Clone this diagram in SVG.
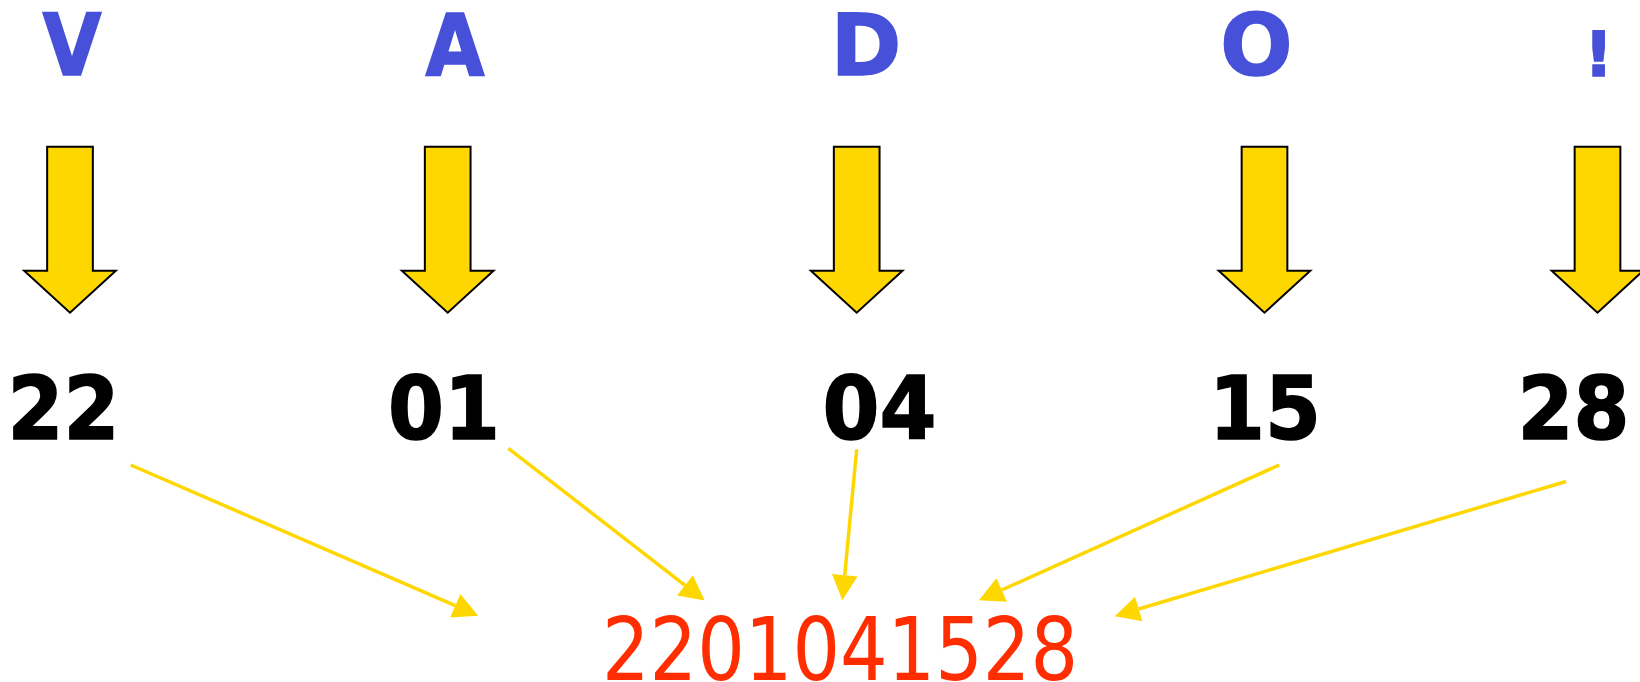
<svg xmlns="http://www.w3.org/2000/svg" xmlns:xlink="http://www.w3.org/1999/xlink" width="1640" height="682" viewBox="0 0 1640 682">
  <style>
    .letter { font-family: "DejaVu Sans", Verdana, sans-serif; font-weight: bold; font-size: 85px; fill: #4650D8; stroke: #4650D8; stroke-width: 1.6; text-anchor: middle; }
    .code { font-family: "DejaVu Sans", Verdana, sans-serif; font-weight: bold; font-size: 88px; fill: #000000; stroke: #000000; stroke-width: 1.6; text-anchor: middle; }
    .result { font-family: "DejaVu Sans", Verdana, sans-serif; font-size: 87px; fill: #FF2D00; text-anchor: middle; }
    .bigarrow { fill: #FFD700; stroke: #000000; stroke-width: 2; stroke-linejoin: miter; }
    .conn { stroke: #FFD700; stroke-width: 3.5; fill: none; marker-end: url(#head); }
  </style>
  <defs>
    <path id="downArrow" class="bigarrow" d="M-22.85,146.7 H22.85 V270.7 H45.8 L0,312.7 L-45.8,270.7 H-22.85 Z"/>
    <marker id="head" markerUnits="userSpaceOnUse" markerWidth="26" markerHeight="26" refX="0" refY="12.8" orient="auto" overflow="visible">
      <path d="M0,0 L25,12.8 L0,25.6 Z" fill="#FFD700"/>
    </marker>
  </defs>
  <rect x="0" y="0" width="1640" height="682" fill="#FFFFFF"/>

  <g id="node-V">
    <text class="letter" x="72" y="75" textLength="59" lengthAdjust="spacingAndGlyphs">V</text>
    <use href="#downArrow" x="70" y="0"/>
    <text class="code" x="63.5" y="439" textLength="112" lengthAdjust="spacingAndGlyphs">22</text>
  </g>
  <g id="node-A">
    <text class="letter" x="455" y="75" textLength="59" lengthAdjust="spacingAndGlyphs">A</text>
    <use href="#downArrow" x="447.7" y="0"/>
    <text class="code" x="444" y="439" textLength="112" lengthAdjust="spacingAndGlyphs">01</text>
  </g>
  <g id="node-D">
    <text class="letter" x="866" y="75">D</text>
    <use href="#downArrow" x="856.7" y="0"/>
    <text class="code" x="879.5" y="439" textLength="114" lengthAdjust="spacingAndGlyphs">04</text>
  </g>
  <g id="node-O">
    <text class="letter" x="1256.5" y="75">O</text>
    <use href="#downArrow" x="1264.5" y="0"/>
    <text class="code" x="1265" y="439" textLength="112" lengthAdjust="spacingAndGlyphs">15</text>
  </g>
  <g id="node-excl">
    <text class="letter" x="1598.5" y="75.5" style="font-size:63px">!</text>
    <use href="#downArrow" x="1597.5" y="0"/>
    <text class="code" x="1573.5" y="439" textLength="112" lengthAdjust="spacingAndGlyphs">28</text>
  </g>
  <g id="node-result">
    <text class="result" x="840" y="680" textLength="476" lengthAdjust="spacingAndGlyphs">2201041528</text>
  </g>

  <g id="connectors">
    <line class="conn" x1="130.7" y1="465" x2="455.3" y2="605.7"/>
    <line class="conn" x1="508.3" y1="448.3" x2="685" y2="585.3"/>
    <line class="conn" x1="856.7" y1="449.3" x2="844.7" y2="575.3"/>
    <line class="conn" x1="1279.3" y1="465" x2="1001.7" y2="590"/>
    <line class="conn" x1="1566" y1="481.5" x2="1138.7" y2="609"/>
  </g>
</svg>
